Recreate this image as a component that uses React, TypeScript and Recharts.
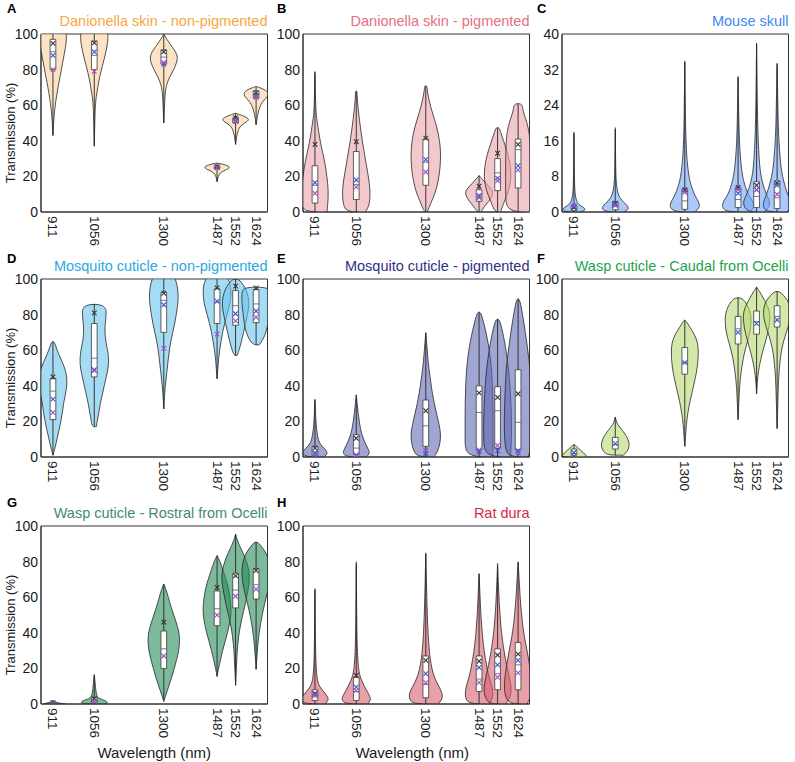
import React from 'react';
import { ScatterChart, Scatter, XAxis, YAxis, ReferenceArea } from 'recharts';

const FONT = '"Liberation Sans", Arial, Helvetica, sans-serif';

// wavelengths (nm) shared by every panel
const wavelengths = [911, 1056, 1300, 1487, 1552, 1624];

// ---- A: Danionella skin - non-pigmented ----
// each profile: [transmission, half-width density] from bottom to top
const aProfiles = [
  [[43, 0], [50, 0.6], [57, 1.5], [63, 3], [70, 5], [77, 7.5], [85, 10], [92, 12.5], [97, 13.5], [100, 13.5], [103, 12], [106, 0]],
  [[37, 0], [50, 0.5], [60, 1], [65, 2], [70, 3.5], [75, 5], [82, 8], [88, 11], [95, 13.5], [100, 14], [103, 12], [106, 0]],
  [[50, 0], [60, 0.7], [68, 1.5], [72, 3], [76, 6], [80, 10], [84, 13], [87, 14], [90, 12], [93, 8], [97, 3], [100, 0]],
  [[17, 0], [20, 1], [22, 3], [23.5, 8], [25, 14], [26.5, 9], [27.5, 0]],
  [[38, 0], [42, 1], [45, 2], [48, 4], [50, 9], [52, 15], [54, 8], [55.5, 0]],
  [[49, 0], [55, 1.5], [60, 4], [63, 8], [66, 13.5], [68.5, 10], [70, 3], [70.5, 0]],
];
const aQ1 = [80, 80, 83, 24.5, 50, 64];
const aMedian = [90, 88, 87, 25, 51.5, 66];
const aQ3 = [97, 96, 91, 25.8, 53, 68];
const aBlack = [94.7, 95, 90, 25.5, 53, 67];
const aBlue = [88, 90, 83, 25, 51.5, 65.5];
const aPurple = [80, 79, 84, 25, 51, 64.5];

// ---- B: Danionella skin - pigmented ----
const bProfiles = [
  [[0, 12], [5, 13], [12, 13.5], [20, 12], [28, 10], [35, 7], [42, 4.5], [50, 2.5], [55, 1], [65, 0.5], [79, 0]],
  [[0, 9], [3, 12.5], [8, 14], [15, 13.5], [22, 11.5], [30, 9], [40, 6], [50, 3.5], [60, 1.5], [66, 0.8], [68, 0.6]],
  [[0, 1.5], [5, 5], [10, 9], [17, 12.5], [25, 14.5], [33, 15], [40, 14], [48, 11], [55, 7], [62, 3.5], [68, 1.5], [71, 1.2]],
  [[0, 2], [3, 5], [6, 10], [9, 13], [11, 14], [13, 12], [16, 7], [18.5, 3], [20.5, 0]],
  [[0, 3], [5, 6], [10, 10], [15, 12.5], [20, 13.5], [25, 13], [30, 11.5], [35, 9], [40, 6], [45, 3], [47.5, 1.5]],
  [[0, 12], [10, 12.5], [20, 12.5], [30, 12.5], [40, 12], [45, 11], [50, 9], [55, 6], [58, 4.5], [61, 4]],
];
const bQ1 = [5, 7, 15, 6, 12, 13.5];
const bMedian = [15, 15.5, 28, 10, 22, 35];
const bQ3 = [26, 34, 41, 12.5, 30, 41];
const bBlack = [38, 39.5, 41.5, 14.5, 33, 38];
const bBlue = [16.5, 18, 29.5, 9, 19, 26];
const bPurple = [10.5, 14, 22.5, 8, 17.5, 23.5];

// ---- C: Mouse skull ----
const cProfiles = [
  [[0, 6], [0.4, 12], [1, 10], [1.5, 6], [2, 3.5], [3, 2], [4, 1.2], [6, 0.6], [10, 0.3], [18, 0]],
  [[0, 8], [0.6, 14], [1.5, 12], [2.5, 7], [3.5, 3.5], [5, 1.8], [7, 0.8], [10, 0.4], [19, 0]],
  [[0, 10], [1, 15], [2, 14.5], [3, 12], [4, 9.5], [5.5, 7], [7, 5], [9, 3.5], [12, 2], [16, 1.2], [20, 0.7], [26, 0.4], [34, 0]],
  [[0, 12], [1, 16], [2, 15.5], [3, 13], [4, 10], [5.5, 7.5], [7, 5.5], [9, 3.8], [12, 2.4], [16, 1.3], [20, 0.8], [25, 0.4], [30.5, 0]],
  [[0, 8], [1, 12], [2, 13.5], [3, 12], [4.5, 9], [6, 6.5], [8, 4.5], [10, 3.2], [14, 2], [18, 1.3], [24, 0.7], [30, 0.4], [38, 0]],
  [[0, 10], [1, 14], [2, 14], [3.5, 11.5], [5, 9], [7, 6.5], [9, 4.5], [12, 3], [16, 1.8], [20, 1.1], [26, 0.6], [33.5, 0]],
];
const cQ1 = [0.3, 0.5, 0.6, 1, 1, 0.8];
const cMedian = [0.8, 1.2, 2.5, 2.8, 3.5, 3.2];
const cQ3 = [1.5, 2.3, 5.2, 5.5, 6.8, 7];
const cBlack = [1, 2, 5, 5.5, 6, 6.5];
const cBlue = [1.2, 1.8, 4.5, 4.2, 5, 6];
const cPurple = [1.5, 1.5, 4.5, 5, 5, 4];

// ---- D: Mosquito cuticle - non-pigmented ----
const dProfiles = [
  [[1, 0], [5, 2], [10, 4], [15, 6], [20, 8], [25, 9.5], [30, 10.5], [35, 12.5], [40, 14], [45, 14], [50, 12], [55, 8], [60, 4], [65, 1.5]],
  [[17, 2], [20, 3], [25, 4.5], [30, 6], [35, 8], [40, 10], [45, 12], [50, 14], [55, 14.5], [60, 13.5], [65, 11.5], [70, 10.5], [75, 11], [80, 12], [86, 12]],
  [[27, 0], [35, 0.8], [40, 1.5], [45, 2.5], [50, 3.5], [55, 4.5], [60, 5.5], [65, 7], [70, 9], [75, 11], [80, 12.5], [85, 14], [90, 14.5], [95, 14], [100, 12], [103, 8], [105, 0]],
  [[44, 0], [50, 0.8], [55, 1.5], [60, 2.5], [65, 4], [70, 5.5], [75, 7.5], [80, 10], [85, 12.5], [90, 14], [95, 14], [100, 12], [103, 6], [105, 0]],
  [[57, 1.5], [60, 3.5], [65, 6], [70, 8], [75, 10], [80, 12], [85, 13.5], [90, 13], [95, 10], [98, 6], [100, 3]],
  [[63, 3], [66, 7], [70, 10], [75, 12], [80, 13], [85, 14], [90, 14.5], [93, 14], [95.5, 12]],
];
const dQ1 = [21, 45, 70, 75, 74, 75.5];
const dMedian = [37, 55.5, 88, 87, 85, 86];
const dQ3 = [44, 75, 92.5, 94.5, 93.5, 94];
const dBlack = [45, 81, 92, 95, 96, 95];
const dBlue = [32.5, 49, 85.5, 87.5, 80.5, 82];
const dPurple = [25, 48.5, 61, 69, 76.5, 78.5];

// ---- E: Mosquito cuticle - pigmented ----
const eProfiles = [
  [[0, 9], [2, 13], [4, 11], [6, 7], [8, 4.5], [10, 3.2], [14, 2], [18, 1.2], [24, 0.6], [32.5, 0]],
  [[0, 10], [2, 13.5], [4, 12.5], [6, 10.5], [9, 8], [12, 6], [15, 4.5], [20, 3], [25, 1.8], [30, 0.9], [35, 0]],
  [[0, 8], [3, 12], [8, 14.5], [13, 15], [18, 13.5], [24, 11], [30, 8.5], [36, 6.5], [42, 5], [50, 3], [57, 1.8], [64, 0.9], [70, 0]],
  [[0, 14], [10, 14], [20, 14], [30, 14], [40, 13.5], [50, 12.5], [60, 10.5], [70, 7], [78, 3.5], [81.5, 1.5]],
  [[0, 13], [10, 14], [20, 14], [30, 13.5], [40, 12.5], [50, 11], [60, 8.5], [68, 6], [74, 3.5], [77.5, 1.5]],
  [[0, 10], [5, 13], [15, 14], [30, 13.5], [45, 12.5], [55, 11], [65, 8.5], [75, 6], [83, 3.5], [89, 1.5]],
];
const eQ1 = [0.5, 1.5, 6, 4, 5, 4];
const eMedian = [3, 5, 17.5, 25, 26, 19.5];
const eQ3 = [6, 12.5, 32, 40, 39.5, 49];
const eBlack = [5, 10.5, 26, 36, 33.5, 35.5];
const eBlue = [2, 1, 2, 3, 3.5, 3.5];
const ePurple = [1, 1, 3.5, 4, 6.5, 2.5];

// ---- F: Wasp cuticle - Caudal from Ocelli ----
const fProfiles = [
  [[0, 12], [1, 12.5], [2, 10], [3.5, 7], [5, 4.5], [6, 2.5], [7, 0]],
  [[1, 8], [3, 12], [6, 14.3], [9, 13.5], [12, 11], [15, 7], [17.5, 3.5], [19, 1.5], [22.5, 0]],
  [[6, 0], [12, 0.8], [18, 1.5], [25, 3], [32, 5.5], [38, 8], [44, 10.5], [50, 12.5], [56, 13.5], [62, 13.5], [66, 12], [70, 8.5], [73, 5], [75.5, 2.5], [77, 0]],
  [[21, 0], [30, 0.7], [40, 1.5], [48, 3], [55, 5], [60, 7], [65, 9.5], [70, 12], [75, 13], [80, 13], [85, 10], [88, 6], [89.5, 3]],
  [[35.5, 0], [45, 1], [52, 3], [58, 5.5], [63, 8], [68, 10.5], [73, 12.5], [78, 13.5], [82, 13], [86, 10], [90, 6], [93, 3], [95.5, 0]],
  [[16, 0], [30, 0.7], [45, 1.5], [55, 3], [62, 5], [68, 8], [73, 11], [78, 13.5], [83, 14], [88, 11], [91, 6], [93, 3]],
];
const fQ1 = [1, 4.5, 46.5, 63.5, 69, 73];
const fMedian = [2, 7, 53, 72, 76, 79];
const fQ3 = [4.5, 11, 61.5, 79, 82, 85];
const fBlue = [2.5, 7.5, 53, 70, 75, 77];

// ---- G: Wasp cuticle - Rostral from Ocelli ----
const gProfiles = [
  [[0, 12], [0.5, 6], [1, 2.5], [2, 0]],
  [[0, 12], [1, 13.5], [2, 11], [3, 5], [4, 3], [6, 2], [8, 1.5], [10, 1.2], [12, 0.8], [14, 0.5], [16.5, 0]],
  [[1.5, 0], [5, 2], [10, 5], [15, 8], [20, 10.5], [25, 13], [30, 15], [35, 16], [40, 15.5], [45, 13], [50, 10], [55, 7], [60, 4.5], [64, 2.5], [67.5, 0]],
  [[15.5, 0], [20, 1.5], [25, 3.5], [30, 5.5], [35, 8], [40, 10.5], [45, 12.5], [50, 14], [55, 14], [60, 13], [65, 11.5], [70, 9], [75, 6], [80, 3], [83.5, 0]],
  [[10.5, 0], [20, 0.8], [30, 1.5], [38, 3], [45, 5], [52, 8], [58, 10.5], [64, 12.5], [70, 14], [75, 13.5], [80, 11], [85, 7.5], [90, 3], [93, 1.2], [95.5, 0]],
  [[19.5, 0], [28, 1], [35, 2], [42, 3.5], [50, 6], [56, 8.5], [62, 11], [68, 13.5], [74, 14.5], [80, 13.5], [85, 10], [88, 6], [91, 2]],
];
const gQ1 = [0.2, 0.5, 20, 44, 54, 59];
const gMedian = [0.5, 1.5, 31, 53.5, 64, 67];
const gQ3 = [0.8, 3.5, 41, 63.5, 73.5, 76];
const gBlack = [0.8, 3, 46, 65.5, 72, 75];
const gPurple = [0.5, 1.5, 27, 50, 60.5, 64.5];

// ---- H: Rat dura ----
const hProfiles = [
  [[0, 10], [2, 13.5], [4, 13], [6, 10], [8, 7], [10, 4.5], [12, 3], [15, 2], [20, 1.2], [30, 0.6], [45, 0.3], [65, 0]],
  [[0, 11], [2, 14.5], [4, 14], [7, 11], [10, 8], [13, 5.5], [16, 3.5], [20, 2.2], [27, 1.3], [35, 0.8], [50, 0.4], [80, 0]],
  [[0, 12], [2, 16], [5, 17], [8, 15], [12, 11], [16, 8], [20, 6], [25, 4.5], [30, 3.5], [40, 2.2], [50, 1.5], [60, 1], [70, 0.6], [85, 0]],
  [[0, 10], [3, 13.5], [6, 14], [10, 13], [15, 10], [20, 8], [25, 6.5], [30, 5], [40, 3], [50, 1.8], [60, 1], [73.5, 0]],
  [[0, 8], [3, 12], [7, 14], [12, 13], [17, 11], [22, 9], [28, 7], [35, 5], [45, 3], [55, 1.8], [65, 1], [79, 0]],
  [[0, 9], [4, 12.5], [8, 14], [14, 13.5], [20, 12], [27, 10], [34, 7.5], [42, 5], [50, 3.5], [60, 2], [70, 1], [80, 0]],
];
const hQ1 = [2, 2, 3.5, 7, 8, 8];
const hMedian = [4, 7, 11, 14, 17, 22];
const hQ3 = [8, 15, 27, 27, 31, 34.5];
const hBlack = [6, 16, 24.5, 24, 27.5, 28];
const hBlue = [5.5, 9.5, 17, 20.5, 22, 24.5];
const hPurple = [5, 7.5, 12, 12, 15, 17.5];

const ticks100 = [0, 20, 40, 60, 80, 100];
const ticks40 = [0, 8, 16, 24, 32, 40];

type Panel = {
  letter: string;
  title: string;
  titleColor: string;
  fill: string;
  col: number;
  row: number;
  yMax: number;
  yTicks: number[];
  minorStep: number;
  profiles: number[][][];
  q1: number[];
  median: number[];
  q3: number[];
  black?: number[];
  blue?: number[];
  purple?: number[];
};

const panels: Panel[] = [
  { letter: 'A', title: 'Danionella skin - non-pigmented', titleColor: '#f6a83e', fill: '#fcd09e', col: 0, row: 0, yMax: 100, yTicks: ticks100, minorStep: 10, profiles: aProfiles, q1: aQ1, median: aMedian, q3: aQ3, black: aBlack, blue: aBlue, purple: aPurple },
  { letter: 'B', title: 'Danionella skin - pigmented', titleColor: '#e5707e', fill: '#eba3aa', col: 1, row: 0, yMax: 100, yTicks: ticks100, minorStep: 10, profiles: bProfiles, q1: bQ1, median: bMedian, q3: bQ3, black: bBlack, blue: bBlue, purple: bPurple },
  { letter: 'C', title: 'Mouse skull', titleColor: '#3f87f2', fill: '#71a3f7', col: 2, row: 0, yMax: 40, yTicks: ticks40, minorStep: 4, profiles: cProfiles, q1: cQ1, median: cMedian, q3: cQ3, black: cBlack, blue: cBlue, purple: cPurple },
  { letter: 'D', title: 'Mosquito cuticle - non-pigmented', titleColor: '#2aa8e0', fill: '#6bc5eb', col: 0, row: 1, yMax: 100, yTicks: ticks100, minorStep: 10, profiles: dProfiles, q1: dQ1, median: dMedian, q3: dQ3, black: dBlack, blue: dBlue, purple: dPurple },
  { letter: 'E', title: 'Mosquito cuticle - pigmented', titleColor: '#2e3087', fill: '#6169b4', col: 1, row: 1, yMax: 100, yTicks: ticks100, minorStep: 10, profiles: eProfiles, q1: eQ1, median: eMedian, q3: eQ3, black: eBlack, blue: eBlue, purple: ePurple },
  { letter: 'F', title: 'Wasp cuticle - Caudal from Ocelli', titleColor: '#1ea34c', fill: '#b7d971', col: 2, row: 1, yMax: 100, yTicks: ticks100, minorStep: 10, profiles: fProfiles, q1: fQ1, median: fMedian, q3: fQ3, blue: fBlue },
  { letter: 'G', title: 'Wasp cuticle - Rostral from Ocelli', titleColor: '#3f8a78', fill: '#268a58', col: 0, row: 2, yMax: 100, yTicks: ticks100, minorStep: 10, profiles: gProfiles, q1: gQ1, median: gMedian, q3: gQ3, black: gBlack, purple: gPurple },
  { letter: 'H', title: 'Rat dura', titleColor: '#d42a42', fill: '#d9616e', col: 1, row: 2, yMax: 100, yTicks: ticks100, minorStep: 10, profiles: hProfiles, q1: hQ1, median: hMedian, q3: hQ3, black: hBlack, blue: hBlue, purple: hPurple },
];

// layout
const X_DOMAIN: [number, number] = [869, 1664];
const COL_LEFT = [41, 303, 562];
const ROW_TOP = [34, 279, 526];
const PLOT_W = 226.5;
const PLOT_H = 178;
const AXIS_W = 40;
const TOP_PAD = 8;
const XAXIS_H = 40;
const RIGHT_PAD = 6;
const DENSITY_NM = 3.5; // nm of half width per density unit
const BOX_HALF = 10; // nm
const INK = '#262626';

const noShape = () => <g />;

const crossShape = (color: string) => (props: any) => {
  const { cx, cy } = props;
  if (cx == null || cy == null) return <g />;
  const s = 2.3;
  return (
    <path
      d={`M${cx - s},${cy - s}L${cx + s},${cy + s}M${cx - s},${cy + s}L${cx + s},${cy - s}`}
      stroke={color}
      strokeWidth={1.1}
      fill="none"
    />
  );
};

function RotatedTick(props: any) {
  const { x, y, payload } = props;
  return (
    <text
      x={x}
      y={y}
      transform={`rotate(90 ${x} ${y})`}
      textAnchor="start"
      dominantBaseline="central"
      fontSize={13.5}
      fontFamily={FONT}
      fill="#1a1a1a"
    >
      {payload.value}
    </text>
  );
}

function violinPoints(wl: number, prof: number[][]) {
  const right = prof.map(([y, w]) => ({ x: wl + w * DENSITY_NM, y }));
  const left = prof
    .slice()
    .reverse()
    .map(([y, w]) => ({ x: wl - w * DENSITY_NM, y }));
  return [...right, ...left, right[0]];
}

function minorTicks(max: number, step: number) {
  const out: number[] = [];
  for (let v = 0; v <= max + 1e-9; v += step) out.push(v);
  return out;
}

function markerSeries(values: number[] | undefined, color: string, key: string) {
  if (!values) return null;
  const data = wavelengths.map((wl, i) => ({ x: wl, y: values[i] }));
  return <Scatter key={key} data={data} shape={crossShape(color)} isAnimationActive={false} />;
}

function PanelChart({ p }: { p: Panel }) {
  const left = COL_LEFT[p.col];
  const top = ROW_TOP[p.row];
  const minors = minorTicks(p.yMax, p.minorStep);

  const violins = p.profiles.map((prof, i) => (
    <Scatter
      key={`v${i}`}
      data={violinPoints(wavelengths[i], prof)}
      line={{ fill: p.fill, fillOpacity: 0.6, stroke: INK, strokeWidth: 0.8 }}
      lineJointType="basis"
      shape={noShape}
      isAnimationActive={false}
    />
  ));

  const whiskers = p.profiles.map((prof, i) => (
    <Scatter
      key={`w${i}`}
      data={[
        { x: wavelengths[i], y: prof[0][0] },
        { x: wavelengths[i], y: prof[prof.length - 1][0] },
      ]}
      line={{ stroke: INK, strokeWidth: 0.9 }}
      shape={noShape}
      isAnimationActive={false}
    />
  ));

  const boxes = wavelengths.map((wl, i) => (
    <Scatter
      key={`b${i}`}
      data={[
        { x: wl - BOX_HALF, y: p.q1[i] },
        { x: wl + BOX_HALF, y: p.q1[i] },
        { x: wl + BOX_HALF, y: p.q3[i] },
        { x: wl - BOX_HALF, y: p.q3[i] },
        { x: wl - BOX_HALF, y: p.q1[i] },
      ]}
      line={{ fill: '#ffffff', stroke: '#3a3a3a', strokeWidth: 0.8 }}
      shape={noShape}
      isAnimationActive={false}
    />
  ));

  const medians = wavelengths.map((wl, i) => (
    <Scatter
      key={`m${i}`}
      data={[
        { x: wl - BOX_HALF, y: p.median[i] },
        { x: wl + BOX_HALF, y: p.median[i] },
      ]}
      line={{ stroke: '#555', strokeWidth: 0.8 }}
      shape={noShape}
      isAnimationActive={false}
    />
  ));

  return (
    <div style={{ position: 'absolute', left: left - AXIS_W, top: top - TOP_PAD }}>
      <ScatterChart
        width={AXIS_W + PLOT_W + RIGHT_PAD}
        height={TOP_PAD + PLOT_H + XAXIS_H}
        margin={{ top: TOP_PAD, right: RIGHT_PAD, bottom: 0, left: 0 }}
      >
        <XAxis
          type="number"
          dataKey="x"
          domain={X_DOMAIN}
          ticks={wavelengths}
          interval={0}
          allowDataOverflow
          height={XAXIS_H}
          tickLine={false}
          tickSize={0}
          tickMargin={4}
          axisLine={{ stroke: '#333' }}
          tick={RotatedTick}
        />
        <YAxis
          type="number"
          dataKey="y"
          domain={[0, p.yMax]}
          ticks={p.yTicks}
          allowDataOverflow
          width={AXIS_W}
          tickLine={false}
          tickSize={0}
          tickMargin={3}
          axisLine={{ stroke: '#333' }}
          tick={{ fontSize: 14, fill: '#1a1a1a', fontFamily: FONT }}
        />
        <YAxis
          yAxisId="minorL"
          type="number"
          domain={[0, p.yMax]}
          ticks={minors}
          mirror
          axisLine={false}
          tickSize={3}
          tickLine={{ stroke: '#444' }}
          tickFormatter={() => ''}
        />
        <YAxis
          yAxisId="minorR"
          orientation="right"
          type="number"
          domain={[0, p.yMax]}
          ticks={minors}
          mirror
          axisLine={false}
          tickSize={3}
          tickLine={{ stroke: '#444' }}
          tickFormatter={() => ''}
        />
        {violins}
        {whiskers}
        {boxes}
        {medians}
        {markerSeries(p.black, '#333333', 'k')}
        {markerSeries(p.blue, '#3556d8', 'bl')}
        {markerSeries(p.purple, '#a24ccc', 'pu')}
        <ReferenceArea
          x1={X_DOMAIN[0]}
          x2={X_DOMAIN[1]}
          y1={0}
          y2={p.yMax}
          fill="none"
          fillOpacity={0}
          stroke="#333"
          strokeWidth={1}
        />
      </ScatterChart>
    </div>
  );
}

const LETTER_X = [7, 277, 537];
const LETTER_Y = [13, 263, 507];

export default function App() {
  return (
    <div
      style={{
        position: 'absolute',
        left: 0,
        top: 0,
        width: 795,
        height: 762,
        background: '#fff',
        fontFamily: FONT,
      }}
    >
      {panels.map((p) => (
        <PanelChart key={p.letter} p={p} />
      ))}
      <svg
        width={795}
        height={762}
        style={{ position: 'absolute', left: 0, top: 0, pointerEvents: 'none' }}
      >
        {panels.map((p) => (
          <g key={p.letter} fontFamily={FONT}>
            <text x={LETTER_X[p.col]} y={LETTER_Y[p.row]} fontSize={13} fontWeight="bold" fill="#000">
              {p.letter}
            </text>
            <text
              x={COL_LEFT[p.col] + PLOT_W}
              y={ROW_TOP[p.row] - 8}
              fontSize={14.5}
              textAnchor="end"
              fill={p.titleColor}
            >
              {p.title}
            </text>
          </g>
        ))}
        {[0, 1, 2].map((r) => (
          <text
            key={`yl${r}`}
            x={10}
            y={ROW_TOP[r] + PLOT_H / 2 + 10}
            transform={`rotate(-90 10 ${ROW_TOP[r] + PLOT_H / 2 + 10})`}
            textAnchor="middle"
            dominantBaseline="central"
            fontSize={13}
            fontFamily={FONT}
            fill="#1a1a1a"
          >
            Transmission (%)
          </text>
        ))}
        {[0, 1].map((c) => (
          <text
            key={`xl${c}`}
            x={COL_LEFT[c] + PLOT_W / 2 - (c === 1 ? 4 : 0)}
            y={758}
            textAnchor="middle"
            fontSize={15}
            fontFamily={FONT}
            fill="#1a1a1a"
          >
            Wavelength (nm)
          </text>
        ))}
      </svg>
    </div>
  );
}
